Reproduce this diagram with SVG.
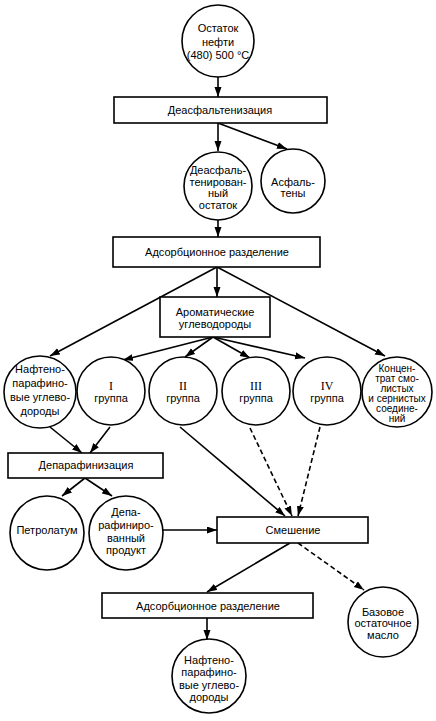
<svg xmlns="http://www.w3.org/2000/svg" width="436" height="721" viewBox="0 0 436 721">
<defs>
<marker id="ah" markerWidth="11" markerHeight="8" refX="10" refY="3.5" orient="auto" markerUnits="userSpaceOnUse">
<path d="M0,0 L10,3.5 L0,7 z" fill="#000"/>
</marker>
<style>
.n{fill:#fff;stroke:#000;stroke-width:1.6}
text{font-family:"Liberation Sans",Arial,sans-serif;font-size:11px;fill:#000;text-anchor:middle}
.r{font-family:"Liberation Serif","Times New Roman",serif;font-size:12px}
.s{font-size:10px}
.c line{stroke:#000;stroke-width:1.6;marker-end:url(#ah)}
.c .d{stroke-dasharray:5,3}
</style>
</defs>
<rect width="436" height="721" fill="#fff"/>
<g class="c" id="connectors">
<line x1="218" y1="77" x2="218" y2="97"/>
<line x1="218" y1="123" x2="218" y2="151"/>
<line x1="218" y1="123" x2="287" y2="149"/>
<line x1="218" y1="220" x2="218" y2="237"/>
<line x1="217" y1="267" x2="217" y2="297"/>
<line x1="217" y1="267" x2="50" y2="356"/>
<line x1="217" y1="267" x2="385" y2="356"/>
<line x1="213" y1="337" x2="123" y2="360"/>
<line x1="213" y1="337" x2="185" y2="357"/>
<line x1="213" y1="337" x2="250" y2="358"/>
<line x1="213" y1="337" x2="305" y2="358"/>
<line x1="50" y1="427" x2="82" y2="453"/>
<line x1="110" y1="427" x2="90" y2="453"/>
<line x1="180" y1="427" x2="285" y2="516"/>
<line class="d" x1="250" y1="428" x2="292" y2="516"/>
<line class="d" x1="320" y1="427" x2="298" y2="516"/>
<line x1="85" y1="478" x2="62" y2="496"/>
<line x1="85" y1="478" x2="112" y2="496"/>
<line x1="163" y1="530" x2="217" y2="530"/>
<line x1="290" y1="543" x2="207" y2="592"/>
<line class="d" x1="298" y1="543" x2="364" y2="590"/>
<line x1="207" y1="618" x2="207" y2="640"/>
</g>
<g id="n1"><circle class="n" cx="218" cy="41" r="36"/><text x="218" y="32">Остаток</text><text x="218" y="46">нефти</text><text x="218" y="59">(480) 500 °C</text></g>
<g id="n2"><rect class="n" x="114" y="97" width="213" height="26"/><text x="220" y="114">Деасфальтенизация</text></g>
<g id="n3"><circle class="n" cx="218" cy="186" r="34"/><text x="218" y="174">Деасфаль-</text><text x="218" y="186">тенирован-</text><text x="218" y="197">ный</text><text x="218" y="209">остаток</text></g>
<g id="n4"><circle class="n" cx="293" cy="181" r="32"/><text x="293" y="186">Асфаль-</text><text x="293" y="197">тены</text></g>
<g id="n5"><rect class="n" x="113" y="237" width="207" height="30"/><text x="217" y="256">Адсорбционное разделение</text></g>
<g id="n6"><rect class="n" x="160" y="297" width="110" height="40"/><text x="215" y="316">Ароматические</text><text x="215" y="328">углеводороды</text></g>
<g id="n7"><circle class="n" cx="40" cy="392" r="36"/><text x="40" y="373">Нафтено-</text><text x="40" y="387">парафино-</text><text x="40" y="401">вые углево-</text><text x="40" y="415">дороды</text></g>
<g id="n8"><circle class="n" cx="111" cy="391" r="34"/><text class="r" x="111" y="390">I</text><text x="111" y="402">группа</text></g>
<g id="n9"><circle class="n" cx="183" cy="391" r="34"/><text class="r" x="183" y="390">II</text><text x="183" y="402">группа</text></g>
<g id="n10"><circle class="n" cx="256" cy="391" r="34"/><text class="r" x="256" y="390">III</text><text x="256" y="402">группа</text></g>
<g id="n11"><circle class="n" cx="327" cy="391" r="34"/><text class="r" x="327" y="390">IV</text><text x="327" y="402">группа</text></g>
<g id="n12"><circle class="n" cx="397" cy="392" r="35"/><text class="s" x="397" y="372">Концен-</text><text class="s" x="397" y="382">трат смо-</text><text class="s" x="397" y="392">листых</text><text class="s" x="397" y="402">и сернистых</text><text class="s" x="397" y="412">соедине-</text><text class="s" x="397" y="422">ний</text></g>
<g id="n13"><rect class="n" x="8" y="453" width="155" height="25"/><text x="86" y="469">Депарафинизация</text></g>
<g id="n14"><circle class="n" cx="47" cy="533" r="37"/><text x="47" y="534">Петролатум</text></g>
<g id="n15"><circle class="n" cx="126" cy="533" r="37"/><text x="126" y="516">Депа-</text><text x="126" y="529">рафиниро-</text><text x="126" y="542">ванный</text><text x="126" y="554">продукт</text></g>
<g id="n16"><rect class="n" x="217" y="517" width="151" height="26"/><text x="293" y="534">Смешение</text></g>
<g id="n17"><rect class="n" x="102" y="593" width="211" height="25"/><text x="208" y="610">Адсорбционное разделение</text></g>
<g id="n18"><circle class="n" cx="383" cy="622" r="35"/><text x="383" y="616">Базовое</text><text x="383" y="627">остаточное</text><text x="383" y="639">масло</text></g>
<g id="n19"><circle class="n" cx="209" cy="676" r="37"/><text x="209" y="664">Нафтено-</text><text x="209" y="676">парафино-</text><text x="209" y="689">вые углево-</text><text x="209" y="701">дороды</text></g>
</svg>
